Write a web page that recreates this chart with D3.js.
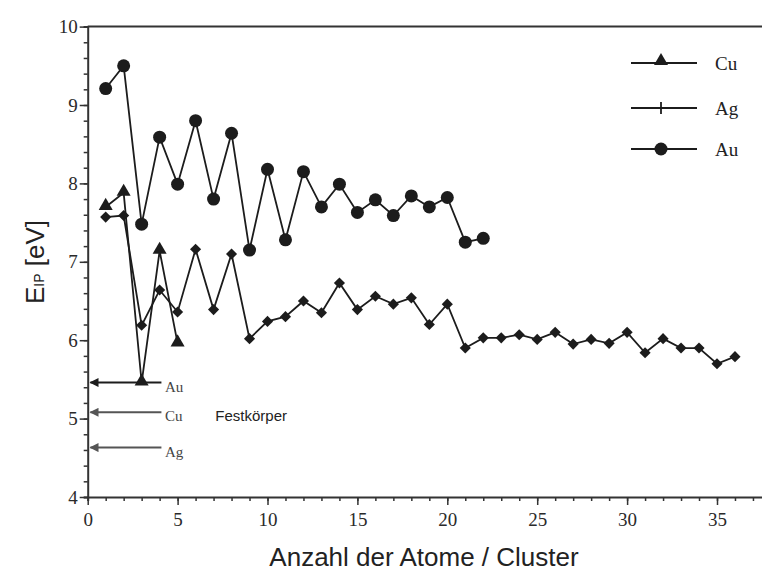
<!DOCTYPE html>
<html>
<head>
<meta charset="utf-8">
<script src="https://cdn.jsdelivr.net/npm/d3@7"></script>
<style>
  html, body { margin: 0; padding: 0; background: #fff; }
  svg { display: block; }
</style>
</head>
<body>
<svg id="chart" width="762" height="571"></svg>
<script>
// ---- data ----
const cuN = [1, 2, 3, 4, 5];
const cuE = [7.70, 7.88, 5.46, 7.14, 5.96];

const agN = [1, 2, 3, 4, 5, 6, 7, 8, 9, 10, 11, 12, 13, 14, 15, 16, 17, 18, 19, 20, 21, 22, 23, 24, 25, 26, 27, 28, 29, 30, 31, 32, 33, 34, 35, 36];
const agE = [7.57, 7.59, 6.19, 6.64, 6.36, 7.16, 6.39, 7.10, 6.02, 6.24, 6.30, 6.50, 6.35, 6.73, 6.39, 6.56, 6.46, 6.54, 6.20, 6.46, 5.90, 6.03, 6.03, 6.07, 6.01, 6.10, 5.95, 6.01, 5.96, 6.10, 5.84, 6.02, 5.90, 5.90, 5.70, 5.79];

const auN = [1, 2, 3, 4, 5, 6, 7, 8, 9, 10, 11, 12, 13, 14, 15, 16, 17, 18, 19, 20, 21, 22];
const auE = [9.21, 9.50, 7.48, 8.59, 7.99, 8.80, 7.80, 8.64, 7.15, 8.18, 7.28, 8.15, 7.70, 7.99, 7.63, 7.79, 7.59, 7.84, 7.70, 7.82, 7.25, 7.30];

// bulk (Festkörper) values
const bulkLabels = ["Au", "Cu", "Ag"];
const bulkE = [5.46, 5.08, 4.63];

const seriesNames = ["Cu", "Ag", "Au"];
const xTicks = [0, 5, 10, 15, 20, 25, 30, 35];
const yTicks = [4, 5, 6, 7, 8, 9, 10];

// ---- layout ----
const svg = d3.select("#chart");
const x0 = 87.7, xPerUnit = 17.98;
const x = d3.scaleLinear().domain([0, 38]).range([x0, x0 + 38 * xPerUnit]);
const y = d3.scaleLinear().domain([4, 10]).range([497, 26.6]);

const ink = "#1c1c1c";
const axisCol = "#333";
const serif = "'Liberation Serif', 'DejaVu Serif', serif";
const sans = "'Liberation Sans', Arial, sans-serif";

// frame top line
svg.append("line")
  .attr("x1", x(0)).attr("x2", 762)
  .attr("y1", y(10)).attr("y2", y(10))
  .attr("stroke", axisCol).attr("stroke-width", 2);

// x axis
const xAxisG = svg.append("g").attr("transform", `translate(0,${y(4)})`);
xAxisG.call(d3.axisBottom(x).tickValues(d3.range(0, 39, 1)).tickSize(4).tickFormat(""));
xAxisG.append("g").call(d3.axisBottom(x).tickValues(xTicks).tickSize(8).tickFormat(d3.format("d")))
  .call(g => g.select(".domain").remove());
xAxisG.selectAll(".domain").attr("stroke", axisCol).attr("stroke-width", 2);
xAxisG.selectAll(".tick line").attr("stroke", axisCol).attr("stroke-width", 1.5);
xAxisG.selectAll(".tick text").attr("font-family", serif).attr("font-size", 19).attr("fill", "#2a2a2a").attr("dy", "0.95em");

// y axis
const yAxisG = svg.append("g").attr("transform", `translate(${x(0)},0)`);
yAxisG.call(d3.axisLeft(y).tickValues(d3.range(4, 10.001, 0.2)).tickSize(4).tickFormat(""));
yAxisG.append("g").call(d3.axisLeft(y).tickValues(yTicks).tickSize(8).tickFormat(d3.format("d")))
  .call(g => g.select(".domain").remove());
yAxisG.selectAll(".domain").attr("stroke", axisCol).attr("stroke-width", 2);
yAxisG.selectAll(".tick line").attr("stroke", axisCol).attr("stroke-width", 1.5);
yAxisG.selectAll(".tick text").attr("font-family", serif).attr("font-size", 19).attr("fill", "#2a2a2a").attr("x", -10);

// axis titles
svg.append("text")
  .attr("x", 424).attr("y", 566)
  .attr("text-anchor", "middle")
  .attr("font-family", sans).attr("font-size", 26).attr("fill", "#222")
  .text("Anzahl der Atome / Cluster");

const yt = svg.append("text")
  .attr("transform", `translate(44,262) rotate(-90)`)
  .attr("text-anchor", "middle")
  .attr("font-family", sans).attr("font-size", 26).attr("fill", "#222");
yt.append("tspan").text("E");
yt.append("tspan").attr("font-size", 14).text("IP");
yt.append("tspan").text(" [eV]");

// series lines
const line = d3.line().x(d => x(d[0])).y(d => y(d[1]));
const cu = cuN.map((n, i) => [n, cuE[i]]);
const ag = agN.map((n, i) => [n, agE[i]]);
const au = auN.map((n, i) => [n, auE[i]]);

[ag, cu, au].forEach(s => {
  svg.append("path").datum(s).attr("d", line)
    .attr("fill", "none").attr("stroke", ink).attr("stroke-width", 1.8);
});

// markers
const triSym = d3.symbol().type(d3.symbolTriangle).size(85);
const sqSym = d3.symbol().type(d3.symbolSquare).size(62);

svg.append("g").selectAll("path").data(ag).join("path")
  .attr("transform", d => `translate(${x(d[0])},${y(d[1])}) rotate(45)`)
  .attr("d", sqSym).attr("fill", ink);

svg.append("g").selectAll("path").data(cu).join("path")
  .attr("transform", d => `translate(${x(d[0])},${y(d[1]) - 1})`)
  .attr("d", triSym).attr("fill", ink);

svg.append("g").selectAll("circle").data(au).join("circle")
  .attr("cx", d => x(d[0])).attr("cy", d => y(d[1])).attr("r", 6.5)
  .attr("fill", ink);

// bulk arrows
const defs = svg.append("defs");
["#1c1c1c", "#555"].forEach((c, i) => {
  defs.append("marker").attr("id", "ah" + i)
    .attr("viewBox", "0 0 10 10").attr("refX", 9).attr("refY", 5)
    .attr("markerWidth", 5.5).attr("markerHeight", 4.5).attr("orient", "auto")
    .attr("markerUnits", "strokeWidth")
    .append("path").attr("d", "M0,0 L10,5 L0,10 Z").attr("fill", c);
});
bulkLabels.forEach((lab, i) => {
  const col = i === 0 ? "#1c1c1c" : "#555";
  svg.append("line")
    .attr("x1", x(4.1)).attr("x2", x(0.15))
    .attr("y1", y(bulkE[i])).attr("y2", y(bulkE[i]))
    .attr("stroke", col).attr("stroke-width", 2)
    .attr("marker-end", `url(#ah${i === 0 ? 0 : 1})`);
  svg.append("text")
    .attr("x", x(4.3)).attr("y", y(bulkE[i]) + 9)
    .attr("font-family", serif).attr("font-size", 15).attr("fill", "#444")
    .text(lab);
});

svg.append("text")
  .attr("x", x(7.1)).attr("y", y(5.0) + 2)
  .attr("font-family", sans).attr("font-size", 15).attr("fill", "#222")
  .text("Festkörper");

// legend
const legY = [63, 108, 149];
seriesNames.forEach((name, i) => {
  const ly = legY[i];
  svg.append("line").attr("x1", 631).attr("x2", 697).attr("y1", ly).attr("y2", ly)
    .attr("stroke", ink).attr("stroke-width", 1.8);
  if (name === "Cu") {
    svg.append("path").attr("transform", `translate(661,${ly - 2})`).attr("d", triSym).attr("fill", ink);
  } else if (name === "Ag") {
    svg.append("line").attr("x1", 661).attr("x2", 661).attr("y1", ly - 6).attr("y2", ly + 6)
      .attr("stroke", ink).attr("stroke-width", 1.8);
  } else {
    svg.append("circle").attr("cx", 661).attr("cy", ly).attr("r", 6.5).attr("fill", ink);
  }
  svg.append("text").attr("x", 715).attr("y", ly).attr("dy", "0.35em")
    .attr("font-family", serif).attr("font-size", 19).attr("fill", "#222")
    .text(name);
});
</script>
</body>
</html>
